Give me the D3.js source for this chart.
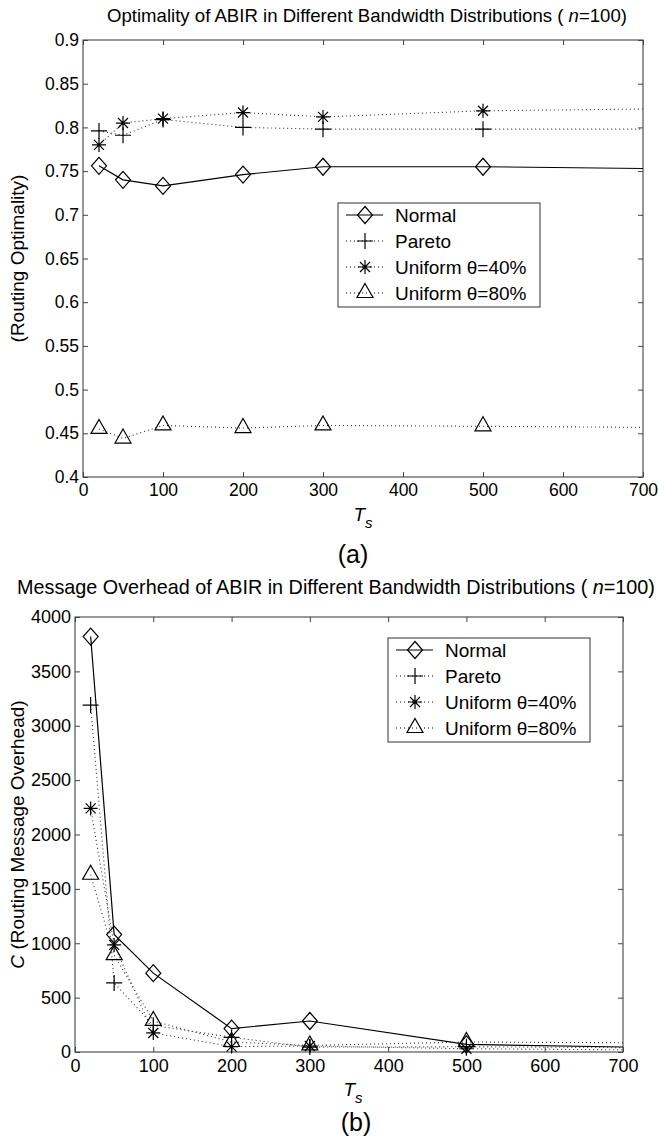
<!DOCTYPE html>
<html>
<head>
<meta charset="utf-8">
<script src="https://cdn.jsdelivr.net/npm/d3@7"></script>
<style>
  body { margin: 0; background: #fff; }
  text { font-family: "Liberation Sans", Arial, sans-serif; fill: #000; }
</style>
</head>
<body>
<div id="chart"></div>
<script>
// data (the last point sits beyond the 700 axis limit and is clipped)
var ts_values = [20, 50, 100, 200, 300, 500, 1000];

var opt_normal = [0.756, 0.740, 0.733, 0.746, 0.755, 0.755, 0.750];
var opt_pareto = [0.796, 0.791, 0.809, 0.800, 0.798, 0.798, 0.798];
var opt_unif40 = [0.780, 0.805, 0.810, 0.817, 0.812, 0.819, 0.824];
var opt_unif80 = [0.455, 0.444, 0.459, 0.456, 0.459, 0.458, 0.455];

var ovh_normal = [3820, 1080, 725, 215, 285, 70, 10];
var ovh_pareto = [3190, 635, 245, 135, 45, 48, 28];
var ovh_unif40 = [2240, 985, 175, 50, 55, 30, 5];
var ovh_unif80 = [1630, 890, 285, 92, 60, 92, 75];

var series_names = ['Normal', 'Pareto', 'Uniform \u03b8=40%', 'Uniform \u03b8=80%'];
var series_markers = ['diamond', 'plus', 'star', 'triangle'];

var x_ticks = [0, 100, 200, 300, 400, 500, 600, 700];
var opt_ticks = [0.4, 0.45, 0.5, 0.55, 0.6, 0.65, 0.7, 0.75, 0.8, 0.85, 0.9];
var ovh_ticks = [0, 500, 1000, 1500, 2000, 2500, 3000, 3500, 4000];

var width = 659;
var height = 1139;
var axis_color = '#444';

var svg = d3.select('#chart')
  .append('svg')
  .attr('width', width)
  .attr('height', height);

// marker shapes around (0,0)
function markerPath(type) {
  if (type == 'diamond') return 'M0,-8.5L7.5,0L0,8.5L-7.5,0Z';
  if (type == 'plus') return 'M-8,0L8,0M0,-8L0,8';
  if (type == 'star') return 'M-7,0L7,0M0,-7L0,7M-5,-5L5,5M-5,5L5,-5';
  return 'M0,-9.5L8,4.5L-8,4.5Z';
}

function drawChart(opts) {
  var g = svg.append('g');

  var x_scale = d3.scaleLinear()
    .domain([0, 700])
    .range([opts.left, opts.right]);
  var y_scale = d3.scaleLinear()
    .domain(opts.y_domain)
    .range([opts.bottom, opts.top]);

  // title
  var title = g.append('text')
    .attr('x', opts.title_x)
    .attr('y', opts.title_y)
    .attr('text-anchor', 'middle')
    .attr('font-size', opts.title_size);
  title.append('tspan').text(opts.title + ' ( ');
  title.append('tspan').attr('font-style', 'italic').text('n');
  title.append('tspan').text('=100)');

  // clip path for the lines
  svg.append('clipPath')
    .attr('id', opts.id + '-clip')
    .append('rect')
    .attr('x', opts.left)
    .attr('y', opts.top)
    .attr('width', opts.right - opts.left)
    .attr('height', opts.bottom - opts.top);

  // axes, ticks pointing inward on all four sides
  var x_axis = d3.axisBottom(x_scale).tickValues(x_ticks).tickSize(-5).tickPadding(7);
  var x_axis_top = d3.axisTop(x_scale).tickValues(x_ticks).tickSize(-5).tickFormat('');
  var y_axis = d3.axisLeft(y_scale).tickValues(opts.y_ticks).tickSize(-5).tickPadding(4)
    .tickFormat(function(d) { return String(+d.toFixed(2)); });
  var y_axis_right = d3.axisRight(y_scale).tickValues(opts.y_ticks).tickSize(-5).tickFormat('');

  var axes = [
    [x_axis, 'translate(0,' + opts.bottom + ')'],
    [x_axis_top, 'translate(0,' + opts.top + ')'],
    [y_axis, 'translate(' + opts.left + ',0)'],
    [y_axis_right, 'translate(' + opts.right + ',0)']
  ];
  axes.forEach(function(a) {
    var ag = g.append('g')
      .attr('transform', a[1])
      .call(a[0]);
    ag.select('.domain').remove();
    ag.selectAll('line').attr('stroke', axis_color);
    ag.selectAll('text')
      .attr('font-family', '"Liberation Sans", Arial, sans-serif')
      .attr('font-size', opts.tick_size)
      .attr('fill', '#000');
  });

  g.append('rect')
    .attr('x', opts.left)
    .attr('y', opts.top)
    .attr('width', opts.right - opts.left)
    .attr('height', opts.bottom - opts.top)
    .attr('fill', 'none')
    .attr('stroke', axis_color)
    .attr('stroke-width', 1.1);

  // axis labels
  var xl = g.append('text')
    .attr('x', opts.xlabel_x)
    .attr('y', opts.bottom + 44)
    .attr('text-anchor', 'middle')
    .attr('font-size', 19);
  xl.append('tspan').attr('font-style', 'italic').text('T');
  xl.append('tspan').attr('font-style', 'italic').attr('font-size', 15).attr('dy', 7).text('s');

  var yl = g.append('text')
    .attr('transform', 'translate(' + opts.ylabel_x + ',' + (opts.top + opts.bottom) / 2 + ') rotate(-90)')
    .attr('text-anchor', 'middle')
    .attr('font-size', 19);
  if (opts.ylabel_italic) {
    yl.append('tspan').attr('font-style', 'italic').text(opts.ylabel_italic);
  }
  yl.append('tspan').text(opts.ylabel);

  // lines
  var line = d3.line()
    .x(function(d) { return x_scale(d[0]); })
    .y(function(d) { return y_scale(d[1]); });

  var plot = g.append('g');
  opts.series.forEach(function(values, i) {
    var pts = ts_values.map(function(t, j) { return [t, values[j]]; });
    plot.append('path')
      .attr('clip-path', 'url(#' + opts.id + '-clip)')
      .attr('d', line(pts))
      .attr('fill', 'none')
      .attr('stroke', i == 0 ? '#000' : '#333')
      .attr('stroke-width', i == 0 ? 1.2 : 1.1)
      .attr('stroke-dasharray', i == 0 ? null : '1,3');
  });
  opts.series.forEach(function(values, i) {
    var pts = ts_values.map(function(t, j) { return [t, values[j]]; })
      .filter(function(d) { return d[0] <= 700; });
    plot.selectAll('path.m' + i)
      .data(pts)
      .enter()
      .append('path')
      .attr('class', 'm' + i)
      .attr('transform', function(d) {
        return 'translate(' + x_scale(d[0]) + ',' + y_scale(d[1]) + ')';
      })
      .attr('d', markerPath(series_markers[i]))
      .attr('fill', 'none')
      .attr('stroke', '#000')
      .attr('stroke-width', 1.2);
  });

  // legend
  var lg = g.append('g');
  var lx = opts.legend_x, ly = opts.legend_y;
  lg.append('rect')
    .attr('x', lx)
    .attr('y', ly)
    .attr('width', 202)
    .attr('height', 104)
    .attr('fill', '#fff')
    .attr('stroke', axis_color)
    .attr('stroke-width', 1.1);
  series_names.forEach(function(name, i) {
    var cy = ly + 12 + i * 26;
    lg.append('line')
      .attr('x1', lx + 8)
      .attr('x2', lx + 45)
      .attr('y1', cy)
      .attr('y2', cy)
      .attr('stroke', '#000')
      .attr('stroke-width', i == 0 ? 1.2 : 1.1)
      .attr('stroke-dasharray', i == 0 ? null : '1,3');
    lg.append('path')
      .attr('transform', 'translate(' + (lx + 27) + ',' + cy + ')')
      .attr('d', markerPath(series_markers[i]))
      .attr('fill', 'none')
      .attr('stroke', '#000')
      .attr('stroke-width', 1.2);
    lg.append('text')
      .attr('x', lx + 57)
      .attr('y', cy + 7)
      .attr('font-size', 19)
      .text(name);
  });

  // panel letter
  g.append('text')
    .attr('x', opts.letter_x)
    .attr('y', opts.letter_y)
    .attr('text-anchor', 'middle')
    .attr('font-family', '"Liberation Serif", "Times New Roman", serif')
    .attr('font-size', 25)
    .text(opts.letter);
}

drawChart({
  id: 'opt',
  left: 83, right: 643, top: 40, bottom: 477,
  y_domain: [0.4, 0.9],
  y_ticks: opt_ticks,
  tick_size: 17.5,
  series: [opt_normal, opt_pareto, opt_unif40, opt_unif80],
  title: 'Optimality of ABIR in Different Bandwidth Distributions',
  title_x: 367, title_y: 22, title_size: 18.6,
  xlabel_x: 363,
  ylabel: '(Routing Optimality)',
  ylabel_x: 24,
  legend_x: 338, legend_y: 203,
  letter: '(a)', letter_x: 353, letter_y: 563
});

drawChart({
  id: 'ovh',
  left: 75, right: 623, top: 617, bottom: 1052,
  y_domain: [0, 4000],
  y_ticks: ovh_ticks,
  tick_size: 18,
  series: [ovh_normal, ovh_pareto, ovh_unif40, ovh_unif80],
  title: 'Message Overhead of ABIR in Different Bandwidth Distributions',
  title_x: 336, title_y: 594, title_size: 19.8,
  xlabel_x: 353,
  ylabel_italic: 'C',
  ylabel: ' (Routing Message Overhead)',
  ylabel_x: 24,
  legend_x: 388, legend_y: 638,
  letter: '(b)', letter_x: 356, letter_y: 1131
});
</script>
</body>
</html>
